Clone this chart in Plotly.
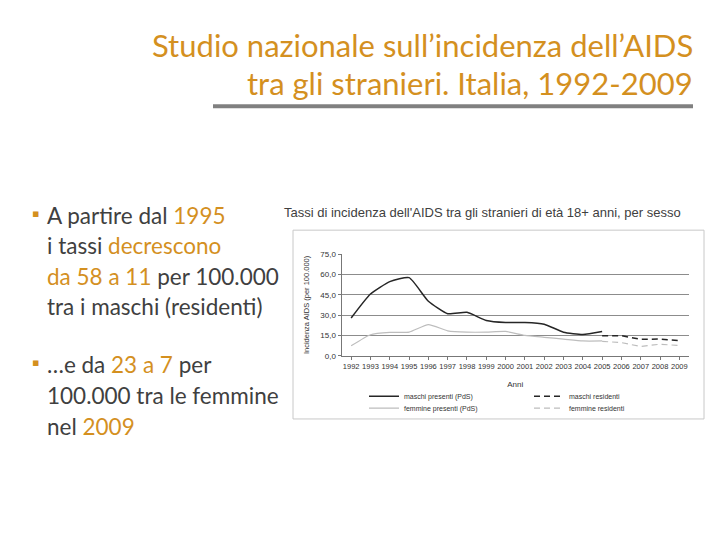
import plotly.graph_objects as go

# ---- data ----
years_pres = [1992, 1993, 1994, 1995, 1996, 1997, 1998, 1999, 2000, 2001, 2002, 2003, 2004, 2005]
maschi_pres = [27.8, 45.5, 54.7, 57.6, 40.2, 31.0, 32.0, 26.0, 24.5, 24.5, 23.2, 17.4, 15.7, 17.9]
femmine_pres = [7.3, 15.5, 17.2, 17.4, 23.0, 18.4, 17.4, 17.4, 17.9, 15.0, 13.6, 12.3, 10.9, 10.9]
years_res = [2005, 2006, 2007, 2008, 2009]
maschi_res = [14.8, 14.8, 12.1, 12.3, 11.1]
femmine_res = [10.6, 9.7, 6.8, 8.5, 7.5]
y_ticks = [0, 15, 30, 45, 60, 75]

W, H = 720, 540
def px(x):
    return x / W
def py(y):
    return 1 - y / H

ORANGE = "#D4901F"
GRAY = "#404040"
DARK = "#262626"
LIGHT = "#bdbdbd"

fig = go.Figure()
fig.add_trace(go.Scatter(x=years_pres, y=maschi_pres, mode="lines", name="maschi presenti (PdS)",
                         line=dict(color=DARK, width=1.5, shape="spline", smoothing=0.5), legend="legend"))
fig.add_trace(go.Scatter(x=years_res, y=maschi_res, mode="lines", name="maschi residenti",
                         line=dict(color=DARK, width=1.5, dash="6px,4px"), legend="legend"))
fig.add_trace(go.Scatter(x=years_pres, y=femmine_pres, mode="lines", name="femmine presenti (PdS)",
                         line=dict(color=LIGHT, width=1.2, shape="spline", smoothing=0.5), legend="legend2"))
fig.add_trace(go.Scatter(x=years_res, y=femmine_res, mode="lines", name="femmine residenti",
                         line=dict(color=LIGHT, width=1.2, dash="6px,4px"), legend="legend2"))

tickfont = dict(family="Liberation Sans, Arial", size=7.5, color="#333333")
ytickfont = dict(family="Liberation Sans, Arial", size=8, color="#333333")
legfont = dict(family="Liberation Sans, Arial", size=7, color="#333333")

fig.update_layout(
    width=W, height=H, margin=dict(l=0, r=0, t=0, b=0),
    paper_bgcolor="white", plot_bgcolor="white",
    separators=",.",
    xaxis=dict(domain=[px(341.5), px(689)], range=[1991.5, 2009.5], tickmode="array",
               tickvals=years_pres + years_res[1:], ticks="outside", ticklen=3, tickcolor="#777",
               tickangle=0,
               showline=True, linecolor="#777", linewidth=1, showgrid=False, zeroline=False,
               tickfont=tickfont, title=dict(text="Anni", font=ytickfont, standoff=11)),
    yaxis=dict(domain=[py(357.7), py(254.3)], range=[0, 75], tickmode="array", tickvals=y_ticks,
               tickformat=".1f", ticks="outside", ticklen=3, tickcolor="#777",
               showline=True, linecolor="#777", linewidth=1, showgrid=True, gridcolor="#8c8c8c",
               gridwidth=1, zeroline=False, tickfont=ytickfont,
               title=dict(text="Incidenza AIDS (per 100.000)", font=tickfont, standoff=9)),
    legend=dict(orientation="h", x=px(364), y=py(399), xanchor="left", yanchor="middle",
                entrywidth=120, entrywidthmode="pixels", font=legfont, bgcolor="rgba(0,0,0,0)",
                itemwidth=30),
    legend2=dict(orientation="h", x=px(364), y=py(411), xanchor="left", yanchor="middle",
                 entrywidth=120, entrywidthmode="pixels", font=legfont, bgcolor="rgba(0,0,0,0)",
                 itemwidth=30),
    showlegend=True,
)

# chart frame and title rule
fig.add_shape(type="rect", xref="paper", yref="paper", x0=px(293), x1=px(704), y0=py(422), y1=py(230),
              line=dict(color="#c8c8c8", width=1), fillcolor="rgba(0,0,0,0)", layer="below")
fig.add_shape(type="rect", xref="paper", yref="paper", x0=px(213), x1=px(693), y0=py(106), y1=py(102),
              line=dict(width=0), fillcolor="#808080")

# slide title
tfont = dict(family="Lato, Open Sans", size=31, color=ORANGE)
fig.add_annotation(text="Studio nazionale sull’incidenza dell’AIDS", xref="paper", yref="paper",
                   x=px(694), y=py(42), xanchor="right", yanchor="middle", showarrow=False, font=tfont,
                   borderpad=0)
fig.add_annotation(text="tra gli stranieri. Italia, 1992-2009", xref="paper", yref="paper",
                   x=px(694), y=py(80), xanchor="right", yanchor="middle", showarrow=False, font=tfont,
                   borderpad=0)

# chart subtitle
fig.add_annotation(text="Tassi di incidenza dell'AIDS tra gli stranieri di età 18+ anni, per sesso",
                   xref="paper", yref="paper", x=px(282), y=py(212), xanchor="left", yanchor="middle",
                   showarrow=False, font=dict(family="Liberation Sans, Arial", size=13, color="#404040"))

# bullet text
bfont = dict(family="Lato, Open Sans", size=22.5, color=GRAY)
def o(s):
    return f"<span style='color:{ORANGE}'>{s}</span>"
lines = [
    (215, "A partire dal " + o("1995")),
    (246, "i tassi " + o("decrescono")),
    (277, o("da 58 a 11") + " per 100.000"),
    (308, "tra i maschi (residenti)"),
    (367, "…e da " + o("23 a 7") + " per"),
    (398, "100.000 tra le femmine"),
    (430, "nel " + o("2009")),
]
for yy, t in lines:
    fig.add_annotation(text=t, xref="paper", yref="paper", x=px(45), y=py(yy), xanchor="left",
                       yanchor="middle", showarrow=False, font=bfont)
for yy in (215, 367):
    fig.add_annotation(text="▪", xref="paper", yref="paper", x=px(35), y=py(yy - 2), xanchor="center",
                       yanchor="middle", showarrow=False, font=dict(family="DejaVu Sans", size=11, color=ORANGE))

fig.write_html("out.html", config={"displayModeBar": False},
               post_script="document.body.style.margin='0';document.body.style.padding='0';")
